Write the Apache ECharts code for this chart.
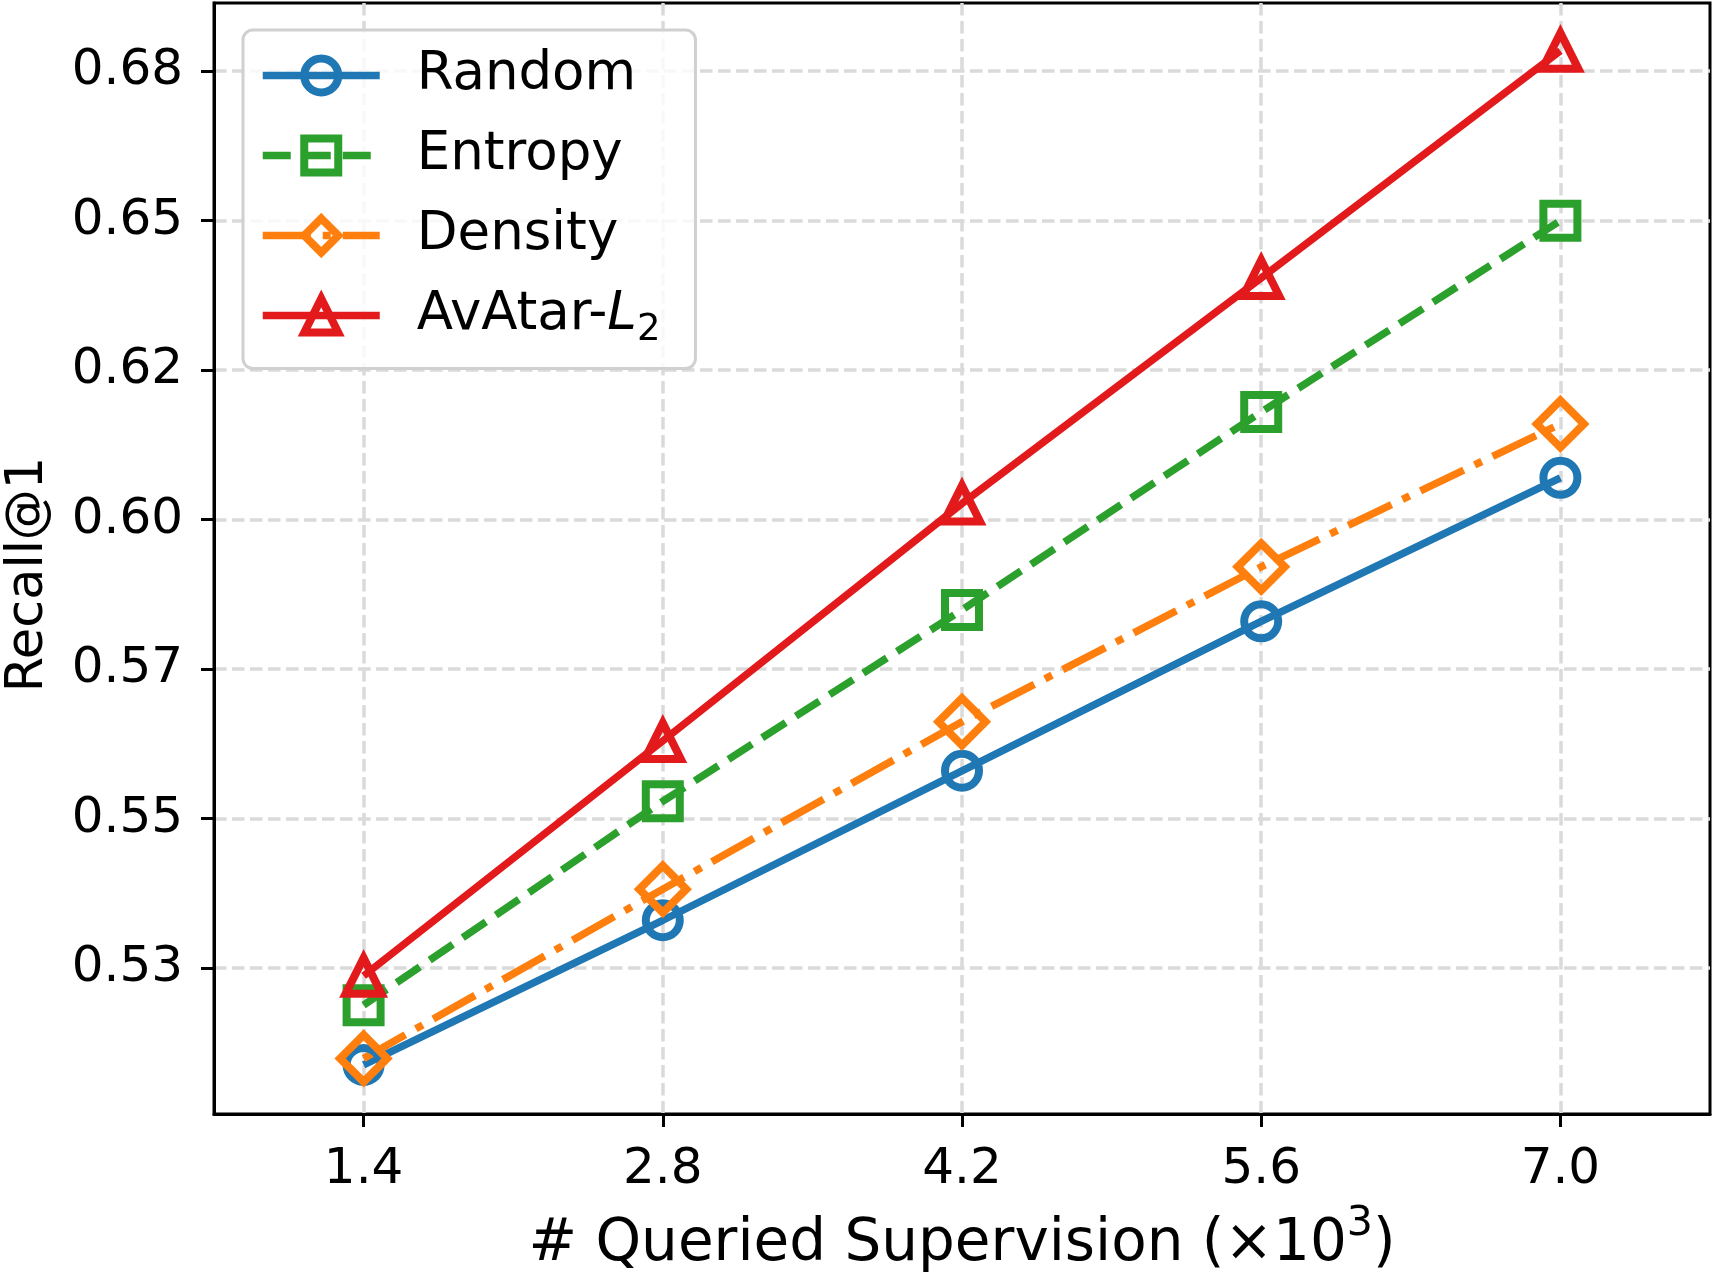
<!DOCTYPE html>
<html>
<head>
<meta charset="utf-8">
<script src="https://cdn.jsdelivr.net/npm/echarts@6/dist/echarts.min.js"></script>
<style>
html, body { margin: 0; padding: 0; background: #fff; }
#container { width: 1713px; height: 1274px; }
</style>
</head>
<body>
<div id="container"></div>
<script>
// queried supervision (x10^3)
var xValues = [1.4, 2.8, 4.2, 5.6, 7.0];
var xTickLabels = ['1.4', '2.8', '4.2', '5.6', '7.0'];
var yTickValues = [0.525, 0.55, 0.575, 0.6, 0.625, 0.65, 0.675];
var yTickLabels = ['0.53', '0.55', '0.57', '0.60', '0.62', '0.65', '0.68'];

var randomRecall = [0.5088, 0.5330, 0.5580, 0.5830, 0.6070];
var entropyRecall = [0.5188, 0.5529, 0.5849, 0.6180, 0.6500];
var densityRecall = [0.5099, 0.5382, 0.5662, 0.5921, 0.6160];
var avatarRecall = [0.5237, 0.5630, 0.6027, 0.6404, 0.6784];

var FONT = 'DejaVu Sans';

function pairs(ys) {
    return xValues.map(function (x, i) { return [x, ys[i]]; });
}

function pickLabel(values, labels, v) {
    for (var i = 0; i < values.length; i++) {
        if (Math.abs(values[i] - v) < 1e-6) return labels[i];
    }
    return '';
}

function makeSeries(name, ys, color, symbol, size, dash) {
    return {
        name: name,
        type: 'line',
        data: pairs(ys),
        symbol: symbol,
        symbolSize: size,
        showAllSymbol: true,
        lineStyle: { color: color, width: 7.5, type: dash, cap: 'butt' },
        itemStyle: { color: 'rgba(255,255,255,0)', borderColor: color, borderWidth: 8, borderJoin: 'miter' },
        emphasis: { disabled: true }
    };
}

var gridLine = { show: true, lineStyle: { color: '#dadada', width: 3.5, type: [12.5, 5.5] } };

var dom = document.getElementById('container');
var myChart = echarts.init(dom);

var option = {
    animation: false,
    backgroundColor: '#fff',
    textStyle: { fontFamily: FONT },
    grid: {
        left: 214, right: 3, top: 3, bottom: 160,
        outerBoundsMode: 'none',
        containLabel: false,
        show: true, borderColor: '#000', borderWidth: 3
    },
    legend: {
        orient: 'vertical',
        left: 243, top: 30,
        padding: [19, 35, 20, 16],
        itemWidth: 117,
        itemHeight: 42.5,
        itemGap: 27,
        backgroundColor: 'rgba(255,255,255,0.8)',
        borderColor: '#d0d0d0',
        borderWidth: 3,
        borderRadius: 10,
        lineStyle: { width: 7.5 },
        itemStyle: { borderWidth: 8 },
        data: ['Random', 'Entropy', 'Density', 'AvAtar-L2'],
        formatter: function (name) {
            return name === 'AvAtar-L2' ? 'AvAtar-{i|L}{s|2}' : name;
        },
        textStyle: {
            fontFamily: FONT, fontSize: 53, lineHeight: 53, color: '#000',
            padding: [0, 0, 0, 32],
            rich: {
                i: { fontFamily: FONT, fontSize: 53, fontStyle: 'italic', color: '#000' },
                s: { fontFamily: FONT, fontSize: 37, color: '#000', verticalAlign: 'middle', padding: [29, 0, 0, 0] }
            }
        }
    },
    xAxis: {
        type: 'value',
        min: 0.7,
        max: 7.7,
        name: '# Queried Supervision (×10{sup|3})',
        nameLocation: 'middle',
        nameGap: 90,
        nameTextStyle: {
            fontFamily: FONT, fontSize: 58, color: '#000',
            rich: {
                sup: { fontFamily: FONT, fontSize: 41, color: '#000', verticalAlign: 'middle', padding: [0, 0, 40, 0] }
            }
        },
        axisLine: { show: true, onZero: false, lineStyle: { color: '#000', width: 3 } },
        axisTick: { show: true, length: 13, customValues: xValues, lineStyle: { color: '#000', width: 3 } },
        axisLabel: {
            customValues: xValues,
            fontFamily: FONT, fontSize: 50, color: '#000', margin: 31,
            formatter: function (v) { return pickLabel(xValues, xTickLabels, v); }
        },
        splitLine: gridLine
    },
    yAxis: {
        type: 'value',
        min: 0.5006,
        max: 0.6864,
        name: 'Recall@1',
        nameLocation: 'middle',
        nameGap: 160,
        nameTextStyle: { fontFamily: FONT, fontSize: 51, color: '#000', padding: [0, 32, 0, 0] },
        axisLine: { show: true, onZero: false, lineStyle: { color: '#000', width: 3 } },
        axisTick: { show: true, length: 13, customValues: yTickValues, lineStyle: { color: '#000', width: 3 } },
        axisLabel: {
            customValues: yTickValues,
            fontFamily: FONT, fontSize: 50, color: '#000', margin: 31,
            formatter: function (v) { return pickLabel(yTickValues, yTickLabels, v); }
        },
        splitLine: gridLine
    },
    series: [
        makeSeries('Random', randomRecall, '#1f77b4', 'circle', 34, 'solid'),
        makeSeries('Entropy', entropyRecall, '#2ca02c', 'rect', 34, [28, 12]),
        makeSeries('Density', densityRecall, '#ff7f0e', 'diamond', 47, [48, 12, 8, 12]),
        makeSeries('AvAtar-L2', avatarRecall, '#e31a1c', 'triangle', 36, 'solid')
    ]
};
myChart.setOption(option);

window.addEventListener('resize', function () {
    myChart.resize();
});
</script>
</body>
</html>
